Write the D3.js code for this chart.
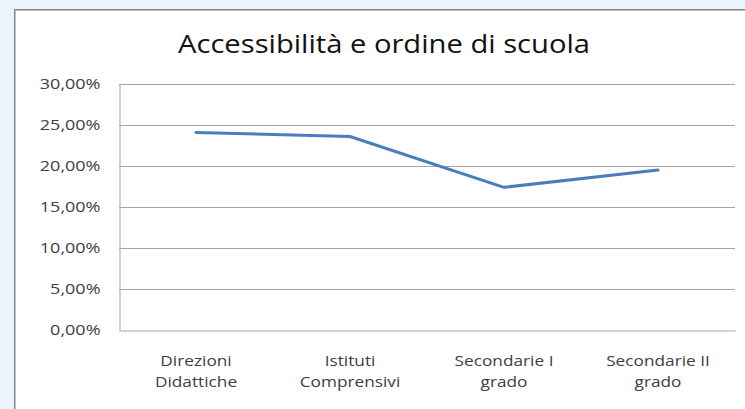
<!DOCTYPE html>
<html><head><meta charset="utf-8">
<script src="https://cdn.jsdelivr.net/npm/d3@7/dist/d3.min.js"></script>
<style>
html,body{margin:0;padding:0;background:#e9f4fd;}
svg{display:block;}
</style></head>
<body>
<svg id="chart" width="745" height="409"></svg>
<script>
const categories = [["Direzioni","Didattiche"],["Istituti","Comprensivi"],["Secondarie I","grado"],["Secondarie II","grado"]];
const values = [0.241, 0.236, 0.174, 0.195];
const yTicks = [0, 0.05, 0.10, 0.15, 0.20, 0.25, 0.30];
const title = "Accessibilità e ordine di scuola";

const svg = d3.select("#chart");
const W = 745, H = 409;
svg.append("rect").attr("x",0).attr("y",0).attr("width",W).attr("height",H).attr("fill","#e9f4fd");
svg.append("rect").attr("x",14).attr("y",9).attr("width",W).attr("height",H).attr("fill","#808080");
svg.append("rect").attr("x",15).attr("y",10).attr("width",W).attr("height",H).attr("fill","#c4c4c4");
svg.append("rect").attr("x",16).attr("y",11).attr("width",W).attr("height",H).attr("fill","#ffffff");

const m = {l:119, r:735, t:84, b:330};
const x = d3.scaleBand().domain(categories.map((d,i)=>i)).range([m.l, m.r]);
const y = d3.scaleLinear().domain([0,0.30]).range([m.b, m.t]);

function stretch(sel, f){
  sel.each(function(){
    const w = this.getComputedTextLength();
    d3.select(this).attr("textLength", w*f).attr("lengthAdjust","spacingAndGlyphs");
  });
}

const t = svg.append("text").attr("x",384).attr("y",53).attr("text-anchor","middle")
  .attr("font-family","'Open Sans', sans-serif").attr("font-size",25).attr("fill","#111")
  .text(title);
t.attr("textLength",412).attr("lengthAdjust","spacingAndGlyphs");

const fmt = v => (v*100).toFixed(2).replace(".",",")+"%";
svg.append("g").selectAll("line").data(yTicks.slice(1)).join("line")
  .attr("x1",m.l).attr("x2",m.r).attr("y1",d=>Math.round(y(d))+0.5).attr("y2",d=>Math.round(y(d))+0.5)
  .attr("stroke","#a6a6a6").attr("stroke-width",1);

const yAxis = svg.append("g").attr("transform",`translate(${m.l+0.5},0)`)
  .call(d3.axisLeft(y).tickValues(yTicks).tickFormat(fmt).tickSize(0).tickPadding(19));
yAxis.select(".domain").attr("stroke","#a6a6a6");
yAxis.selectAll("text").attr("font-family","'Open Sans', sans-serif").attr("font-size",15).attr("fill","#404040");
stretch(yAxis.selectAll("text"), 1.2);

const xAxis = svg.append("g").attr("transform",`translate(0,${m.b+0.5})`)
  .call(d3.axisBottom(x).tickSize(0).tickFormat(""));
xAxis.select(".domain").attr("stroke","#a6a6a6");
const lab = svg.append("g").selectAll("text").data(categories).join("g")
  .attr("transform",(d,i)=>`translate(${x(i)+x.bandwidth()/2},0)`);
lab.selectAll("text").data(d=>d).join("text")
  .attr("x",0).attr("y",(d,i)=>366+i*21).attr("text-anchor","middle")
  .attr("font-family","'Open Sans', sans-serif").attr("font-size",15).attr("fill","#404040")
  .text(d=>d);
stretch(lab.selectAll("text"), 1.15);

const line = d3.line().x((d,i)=>x(i)+x.bandwidth()/2).y(d=>y(d));
svg.append("path").datum(values).attr("d",line).attr("fill","none")
  .attr("stroke","#4a7ebb").attr("stroke-width",3).attr("stroke-linejoin","round").attr("stroke-linecap","round");
</script>
</body></html>
